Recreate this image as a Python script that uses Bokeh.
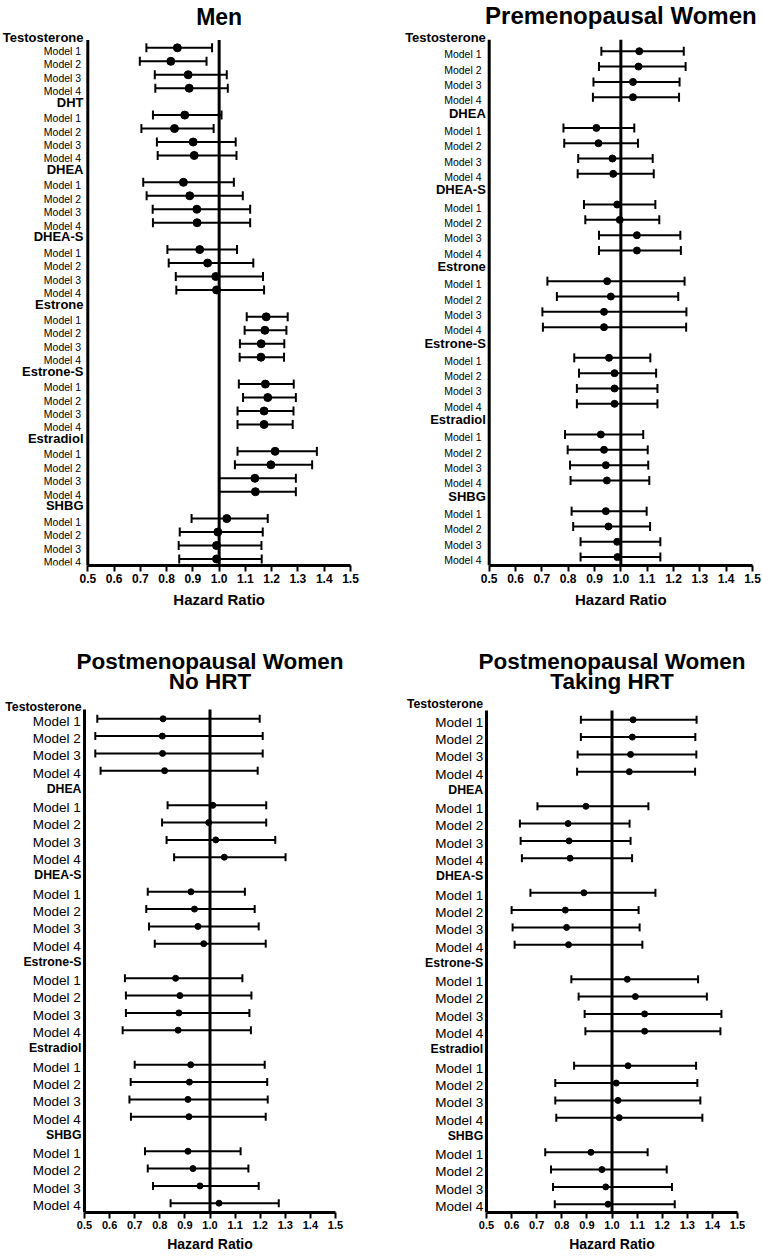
from bokeh.plotting import figure
from bokeh.models import Range1d, ColumnDataSource, Whisker, TeeHead, FixedTicker, PrintfTickFormatter, Title
from bokeh.layouts import column, row
from bokeh.embed import file_html
from bokeh.resources import INLINE
from bokeh.core.properties import value

FONT = "Liberation Sans"
models = ["Model 1", "Model 2", "Model 3", "Model 4"]
tick_values = [0.5, 0.6, 0.7, 0.8, 0.9, 1.0, 1.1, 1.2, 1.3, 1.4, 1.5]
reference_hr = 1.0
axis_title = "Hazard Ratio"

# ---------------- Men ----------------
men_title = ["Men"]
men_groups = ["Testosterone", "DHT", "DHEA", "DHEA-S", "Estrone", "Estrone-S", "Estradiol", "SHBG"]
men_hr = [0.841, 0.816, 0.882, 0.886,  0.869, 0.830, 0.901, 0.905,
          0.864, 0.888, 0.915, 0.916,  0.926, 0.956, 0.987, 0.990,
          1.179, 1.174, 1.160, 1.159,  1.176, 1.185, 1.171, 1.171,
          1.213, 1.197, 1.136, 1.138,  1.029, 0.995, 0.990, 0.990]
men_lo = [0.723, 0.698, 0.755, 0.757,  0.748, 0.704, 0.763, 0.766,
          0.711, 0.724, 0.747, 0.748,  0.803, 0.808, 0.835, 0.837,
          1.105, 1.097, 1.079, 1.078,  1.075, 1.091, 1.070, 1.070,
          1.070, 1.060, 1.000, 1.000,  0.895, 0.850, 0.846, 0.848]
men_hi = [0.973, 0.952, 1.029, 1.033,  1.009, 0.979, 1.063, 1.066,
          1.056, 1.090, 1.118, 1.118,  1.068, 1.130, 1.167, 1.171,
          1.261, 1.256, 1.248, 1.247,  1.284, 1.292, 1.283, 1.280,
          1.372, 1.354, 1.292, 1.292,  1.185, 1.166, 1.161, 1.162]

# ---------------- Premenopausal women ----------------
pre_title = ["Premenopausal Women"]
pre_groups = ["Testosterone", "DHEA", "DHEA-S", "Estrone", "Estrone-S", "Estradiol", "SHBG"]
pre_hr = [1.070, 1.067, 1.046, 1.046,  0.907, 0.915, 0.968, 0.971,
          0.986, 0.996, 1.061, 1.061,  0.948, 0.962, 0.936, 0.936,
          0.955, 0.976, 0.976, 0.976,  0.924, 0.936, 0.943, 0.947,
          0.943, 0.953, 0.986, 0.987]
pre_lo = [0.926, 0.917, 0.896, 0.894,  0.782, 0.785, 0.838, 0.836,
          0.860, 0.865, 0.917, 0.917,  0.721, 0.757, 0.702, 0.704,
          0.823, 0.841, 0.833, 0.833,  0.788, 0.798, 0.807, 0.809,
          0.813, 0.819, 0.847, 0.847]
pre_hi = [1.239, 1.246, 1.223, 1.221,  1.051, 1.065, 1.121, 1.125,
          1.131, 1.146, 1.226, 1.228,  1.242, 1.218, 1.249, 1.248,
          1.112, 1.134, 1.139, 1.139,  1.085, 1.102, 1.104, 1.108,
          1.098, 1.111, 1.150, 1.150]

# ---------------- Postmenopausal, no HRT ----------------
nohrt_title = ["Postmenopausal Women", "No HRT"]
nohrt_groups = ["Testosterone", "DHEA", "DHEA-S", "Estrone-S", "Estradiol", "SHBG"]
nohrt_hr = [0.813, 0.810, 0.811, 0.819,  1.011, 0.995, 1.023, 1.057,
            0.924, 0.938, 0.952, 0.975,  0.863, 0.880, 0.876, 0.873,
            0.923, 0.918, 0.912, 0.916,  0.912, 0.932, 0.960, 1.036]
nohrt_lo = [0.551, 0.543, 0.543, 0.564,  0.831, 0.809, 0.827, 0.857,
            0.752, 0.746, 0.757, 0.780,  0.661, 0.665, 0.665, 0.652,
            0.700, 0.684, 0.679, 0.685,  0.741, 0.752, 0.773, 0.843]
nohrt_hi = [1.198, 1.210, 1.210, 1.190,  1.224, 1.224, 1.260, 1.301,
            1.139, 1.178, 1.194, 1.222,  1.129, 1.165, 1.157, 1.163,
            1.218, 1.228, 1.230, 1.222,  1.122, 1.153, 1.194, 1.274]

# ---------------- Postmenopausal, taking HRT ----------------
hrt_title = ["Postmenopausal Women", "Taking HRT"]
hrt_groups = ["Testosterone", "DHEA", "DHEA-S", "Estrone-S", "Estradiol", "SHBG"]
hrt_hr = [1.084, 1.081, 1.074, 1.069,  0.896, 0.825, 0.829, 0.833,
          0.888, 0.814, 0.819, 0.827,  1.061, 1.093, 1.130, 1.130,
          1.064, 1.017, 1.024, 1.029,  0.916, 0.960, 0.975, 0.984]
hrt_lo = [0.876, 0.876, 0.863, 0.861,  0.703, 0.633, 0.636, 0.641,
          0.675, 0.600, 0.604, 0.612,  0.838, 0.867, 0.891, 0.894,
          0.849, 0.774, 0.774, 0.778,  0.734, 0.757, 0.765, 0.772]
hrt_hi = [1.337, 1.332, 1.336, 1.331,  1.145, 1.070, 1.074, 1.080,
          1.173, 1.106, 1.110, 1.121,  1.343, 1.378, 1.436, 1.432,
          1.335, 1.340, 1.352, 1.360,  1.142, 1.218, 1.239, 1.250]


def make_panel(title_lines, groups, hr, lo, hi, g):
    fw, fh = g["fw"], g["fh"]
    scale = g["x15"] - g["x05"]
    xs = tick_values[0] - g["x05"] / scale
    xe = tick_values[-1] + (fw - g["x15"]) / scale
    p = figure(frame_width=fw, frame_height=fh,
               x_range=Range1d(xs, xe), y_range=Range1d(fh, 0),
               output_backend="svg", toolbar_location=None,
               y_axis_location=None, title=None,
               min_border_left=0, min_border_right=0, min_border_top=0,
               min_border_bottom=g["bb"])
    p.xgrid.visible = False
    p.ygrid.visible = False
    p.outline_line_color = None
    p.background_fill_color = "white"

    s0, sp = g["slot0"], g["sp"]
    hy, my, mlab = [], [], []
    for i, grp in enumerate(groups):
        hy.append(s0 + sp * 5 * i)
        for k in range(4):
            my.append(s0 + sp * (5 * i + k + 1))
            mlab.append(models[k])
    hoff = [g["first_nudge"]] + [0.6] * (len(groups) - 1)

    # y axis line and reference line at HR = 1
    p.segment(x0=[tick_values[0], reference_hr], x1=[tick_values[0], reference_hr],
              y0=[g["ytop"], g["ytop"]], y1=[fh, fh], line_width=3, line_color="black")

    src = ColumnDataSource(dict(y=my, hr=hr, lo=lo, hi=hi, lab=mlab))
    w = Whisker(source=src, base="y", lower="lo", upper="hi", dimension="width",
                line_width=2, line_color="black",
                upper_head=TeeHead(size=g["cap"], line_width=2, line_color="black"),
                lower_head=TeeHead(size=g["cap"], line_width=2, line_color="black"))
    p.add_layout(w)
    p.scatter(x="hr", y="y", source=src, size=g["dot"], color="black", marker="circle")

    # category labels
    hsrc = ColumnDataSource(dict(x=[tick_values[0]] * len(groups), y=hy, t=groups, off=hoff))
    p.text(x="x", y="y", text="t", source=hsrc, x_offset=-g["hgap"], y_offset="off",
           text_font=value(FONT), text_font_style="bold", text_font_size=g["hfs"],
           text_align="right", text_baseline="middle", text_color="black")
    p.text(x=[tick_values[0]] * len(my), y=my, text=mlab, x_offset=-g["mgap"], y_offset=g["moff"],
           text_font=value(FONT), text_font_size=g["mfs"],
           text_align="right", text_baseline="middle", text_color="#000000")

    # panel title (centred over HR = 1)
    p.text(x=[reference_hr] * len(title_lines), y=g["tcy"][:len(title_lines)], text=title_lines,
           text_font=value(FONT), text_font_style="bold", text_font_size=g["tfs"],
           text_align="center", text_baseline="middle", text_color="black")

    ax = p.xaxis[0]
    ax.ticker = FixedTicker(ticks=tick_values)
    ax.formatter = PrintfTickFormatter(format="%.1f")
    ax.bounds = (tick_values[0], tick_values[-1])
    ax.axis_line_width = 3
    ax.axis_line_color = "black"
    ax.major_tick_line_width = 2
    ax.major_tick_line_color = "black"
    ax.major_tick_out = 6
    ax.major_tick_in = 0
    ax.minor_tick_out = 0
    ax.minor_tick_in = 0
    ax.major_label_text_font = FONT
    ax.major_label_text_font_style = "bold"
    ax.major_label_text_font_size = g["tkfs"]
    ax.major_label_text_color = "black"
    ax.major_label_standoff = g["tkstd"]

    # x axis title, centred under the 0.5 - 1.5 axis
    center_px = (g["x05"] + g["x15"]) / 2
    t = Title(text=axis_title, align="left", offset=center_px - g["alw"] / 2,
              standoff=g["alstd"], text_font=FONT, text_font_style="bold",
              text_font_size=g["alfs"], text_color="black")
    p.add_layout(t, "below")
    return p


top_common = dict(fw=381, fh=565, bb=50, tkfs="12px", tkstd=2, alfs="15px", alw=91.7, alstd=6,
                  hfs="13px", mfs="10.5px", moff=3, cap=9)
bot_common = dict(fw=381, fh=597, bb=42, tkfs="11px", tkstd=2, alfs="14px", alw=85.6, alstd=4,
                  hfs="12.3px", mfs="13.5px", moff=2.3, tfs="22.5px", cap=8, dot=6,
                  sp=17.3, tcy=[46, 66])

g_men = dict(top_common, x05=87.3, x15=350, slot0=33.9, sp=13.45, ytop=39.5, first_nudge=2.8,
             hgap=4.3, mgap=6.6, dot=8, tcy=[16.7], tfs="23px")
g_pre = dict(top_common, x05=107.7, x15=371, slot0=35.4, sp=15.33, ytop=39.3, first_nudge=1.3,
             hgap=3.4, mgap=7.7, dot=7, tcy=[15], tfs="24px")
g_nohrt = dict(bot_common, x05=84, x15=335, slot0=86, ytop=94, first_nudge=5.7, hgap=3, mgap=3.7)
g_hrt = dict(bot_common, x05=105, x15=356, slot0=87, ytop=95, first_nudge=1.3, hgap=3.3, mgap=3.3)

p1 = make_panel(men_title, men_groups, men_hr, men_lo, men_hi, g_men)
p2 = make_panel(pre_title, pre_groups, pre_hr, pre_lo, pre_hi, g_pre)
p3 = make_panel(nohrt_title, nohrt_groups, nohrt_hr, nohrt_lo, nohrt_hi, g_nohrt)
p4 = make_panel(hrt_title, hrt_groups, hrt_hr, hrt_lo, hrt_hi, g_hrt)

layout = column(row(p1, p2), row(p3, p4))
open("out.html", "w").write(file_html(layout, INLINE))
